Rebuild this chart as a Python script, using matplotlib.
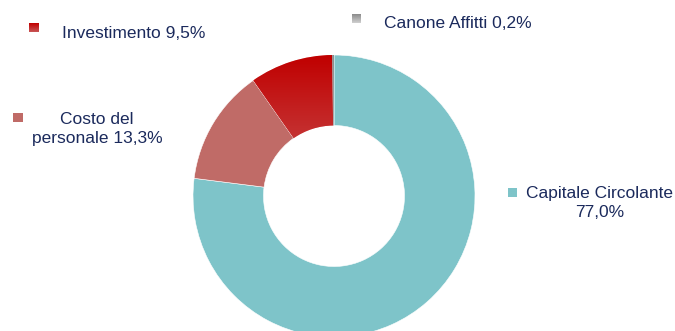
import matplotlib
matplotlib.use('Agg')
import matplotlib.pyplot as plt
import numpy as np
from matplotlib.colors import LinearSegmentedColormap, to_rgb

# Dati
labels = ['Capitale Circolante', 'Costo del personale', 'Investimento', 'Canone Affitti']
values = [77.0, 13.3, 9.5, 0.2]
label_text = ['Capitale Circolante\n77,0%', 'Costo del\npersonale 13,3%', 'Investimento 9,5%', 'Canone Affitti 0,2%']
# colori: (alto, basso) per i gradienti
colors = [('#7EC4C9', '#7EC4C9'), ('#C06B67', '#C06B67'), ('#C00000', '#C85555'), ('#8C8C8C', '#CFCFCF')]

W, H = 675, 331
fig = plt.figure(figsize=(W / 100, H / 100), dpi=100)
text_color = '#1B2A5C'

# Ciambella: centro (334, 196) px, raggio 141 px
cx, cy, r = 334, 196, 141
ax = fig.add_axes([(cx - r) / W, (H - cy - r) / H, 2 * r / W, 2 * r / H])
ax.set_xlim(-1, 1)
ax.set_ylim(-1, 1)
ax.axis('off')

wedges, _ = ax.pie(values, startangle=90, counterclock=False, radius=1,
                   colors=[c[0] for c in colors],
                   wedgeprops=dict(width=0.5, edgecolor='white', linewidth=0.4))


def gradient_fill(a, patch, top, bottom):
    cmap = LinearSegmentedColormap.from_list('g', [to_rgb(bottom), to_rgb(top)])
    verts = patch.get_path().vertices
    y0, y1 = verts[:, 1].min(), verts[:, 1].max()
    grad = np.linspace(0, 1, 256).reshape(-1, 1)
    im = a.imshow(grad, cmap=cmap, extent=[-1, 1, y0, y1], origin='lower', aspect='auto',
                  zorder=patch.get_zorder() + 0.1)
    im.set_clip_path(patch)


for w, (top, bottom) in zip(wedges, colors):
    if top != bottom:
        gradient_fill(ax, w, top, bottom)

ax.set_xlim(-1, 1)
ax.set_ylim(-1, 1)


# Legenda: quadratini + testo
def marker(x, y, top, bottom, size=9):
    mx = fig.add_axes([x / W, (H - y - size) / H, size / W, size / H])
    mx.axis('off')
    cmap = LinearSegmentedColormap.from_list('g', [to_rgb(bottom), to_rgb(top)])
    mx.imshow(np.linspace(0, 1, 32).reshape(-1, 1), cmap=cmap, origin='lower', aspect='auto', extent=[0, 1, 0, 1])


fs = 12.5
marker(29, 23, *colors[2])
fig.text(62 / W, 1 - 33 / H, label_text[2], color=text_color, fontsize=fs, family='Liberation Sans', va='center', ha='left')

marker(352, 14, *colors[3])
fig.text(384 / W, 1 - 23 / H, label_text[3], color=text_color, fontsize=fs, family='Liberation Sans', va='center', ha='left')

marker(13, 113, *colors[1])
fig.text(97 / W, 1 - 129 / H, label_text[1], color=text_color, fontsize=fs, family='Liberation Sans',
         va='center', ha='center', linespacing=1.35)

marker(508, 188, *colors[0])
fig.text(600 / W, 1 - 203 / H, label_text[0], color=text_color, fontsize=fs, family='Liberation Sans',
         va='center', ha='center', linespacing=1.35)

plt.savefig('out.png', dpi=100)
